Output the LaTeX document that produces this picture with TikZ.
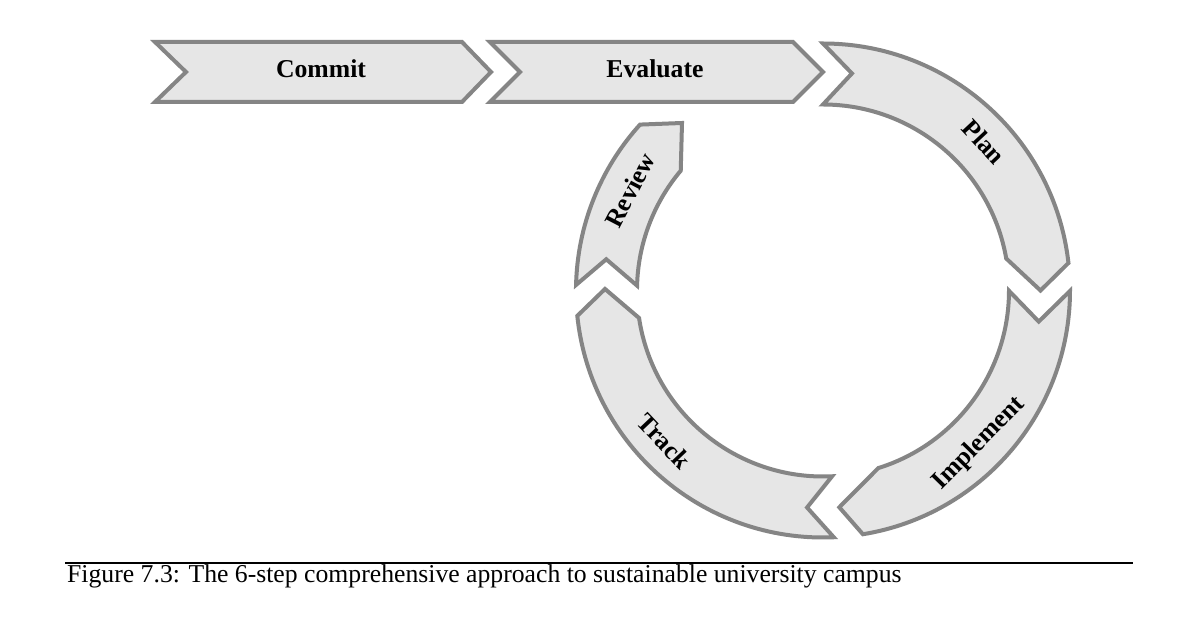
\documentclass[tikz,border=0pt]{standalone}
\usepackage{fontspec}
\setmainfont{Liberation Serif}
\definecolor{strokegray}{HTML}{858585}
\definecolor{fillgray}{HTML}{E6E6E6}
\begin{document}
\begin{tikzpicture}[x=1pt,y=1pt,
  seg/.style={draw=strokegray, fill=fillgray, line width=4pt, line join=miter},
  lbl/.style={font=\fontsize{25.7}{30}\selectfont\bfseries, inner sep=0pt}]
\useasboundingbox (0,0) rectangle (1191,629);
\fill[white] (0,0) rectangle (1191,629);

% straight chevrons
\draw[seg] (155,587) -- (462,587) -- (491,557) -- (462,527) -- (155,527) -- (186,557) -- cycle;
\node[lbl] (commit) at (321,560.5) {Commit};
\draw[seg] (490,587) -- (793,587) -- (823,557) -- (793,527) -- (490,527) -- (520,557) -- cycle;
\node[lbl] (evaluate) at (655,560.5) {Evaluate};

% ring
\begin{scope}[shift={(823,338.5)}]
\def\Ro{247}\def\Ri{186}
% Plan
\draw[seg] (90:\Ro) arc[start angle=90,end angle=6.4,radius=\Ro] -- (0:217.5)
  -- (9.9:\Ri) arc[start angle=9.9,end angle=90,radius=\Ri] -- (82.4:219) -- cycle;
% Implement
\draw[seg] (-0.1:\Ro) arc[start angle=-0.1,end angle=-80.7,radius=\Ro] -- (-85.7:217.4)
  -- (-72.7:\Ri) arc[start angle=-72.7,end angle=-0.1,radius=\Ri] -- (-8.2:218) -- cycle;
% Track
\draw[seg] (-87.5:\Ro) arc[start angle=-87.5,end angle=-174.1,radius=\Ro] -- (-180.4:218)
  -- (-171.5:\Ri) arc[start angle=-171.5,end angle=-87.2,radius=\Ri] -- (-94.2:217.6) -- cycle;
% Review
\draw[seg] (178.7:\Ro) arc[start angle=178.7,end angle=137.8,radius=\Ro] -- (-141,167.5)
  -- (139.9:\Ri) arc[start angle=139.9,end angle=178.5,radius=\Ri] -- (171.8:219) -- cycle;

\node[lbl, rotate=-47] (plan) at (42.7:219) {Plan};
\node[lbl, rotate=45.6] (implement) at (-44.4:219) {Implement};
\node[lbl, rotate=-46.5] (track) at (-136.5:218.6) {Track};
\node[lbl, rotate=62.5] (review) at (152.5:217.6) {Review};
\end{scope}

% caption
\draw[line width=2pt] (65,66) -- (1133,66);
\node[anchor=base west, inner sep=0pt, font=\fontsize{25.7}{30}\selectfont] (caption) at (67,46)
  {Figure 7.3: The 6-step comprehensive approach to sustainable university campus};
\end{tikzpicture}
\end{document}
